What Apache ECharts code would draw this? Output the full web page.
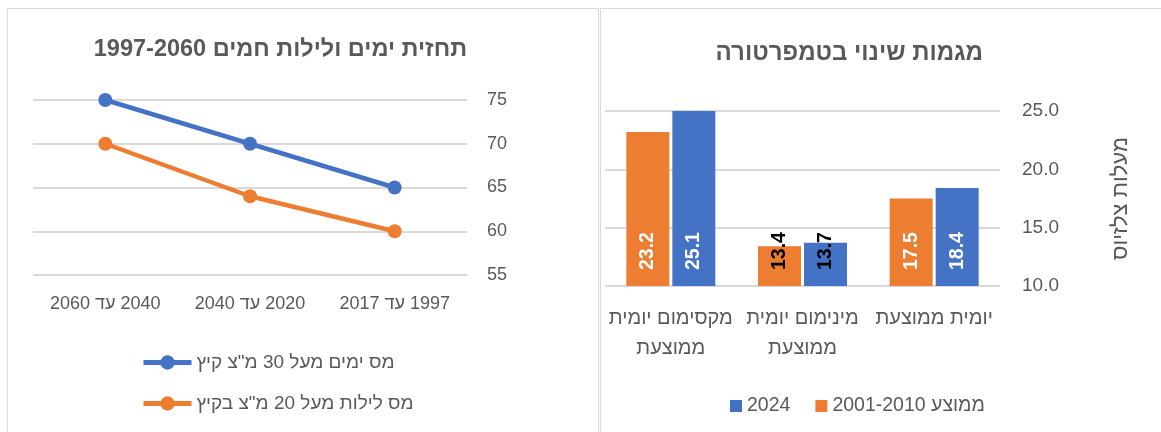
<!DOCTYPE html>
<html>
<head>
	<meta charset="utf-8">
	<title>ימים חמים ומגמות טמפרטורה</title>
	<script src="https://cdn.jsdelivr.net/npm/echarts@6/dist/echarts.min.js"></script>
	<style>
		html, body { margin: 0; padding: 0; background: #fff; }
		#chart { width: 1161px; height: 432px; }
		#chart canvas { direction: rtl; }
	</style>
</head>
<body>
	<div id="chart"></div>
	<script type="text/javascript">
	// left chart - hot days / nights
	var lineCategories = ['1997 עד 2017', '2020 עד 2040', '2040 עד 2060'];
	var hotDays = [65, 70, 75];
	var hotNights = [60, 64, 70];
	var lineNames = ['מס ימים מעל 30 מ"צ קיץ', 'מס לילות מעל 20 מ"צ בקיץ'];

	// right chart - temperature trends
	var barCategories = ['יומית ממוצעת', 'מינימום יומית\nממוצעת', 'מקסימום יומית\nממוצעת'];
	var avg2001 = [17.5, 13.4, 23.2];
	var year2024 = [18.4, 13.7, 25.1];
	var barNames = ['ממוצע 2001-2010', '2024'];

	var font = '"Liberation Sans", "DejaVu Sans", sans-serif';
	var grey = '#595959';
	var blue = '#4472C4';
	var orange = '#ED7D31';

	function barData(vals) {
		return vals.map(function (v, i) {
			// min bars are too short, label goes outside in black
			if (i === 1) return { value: v, label: { color: '#000' } };
			return v;
		});
	}

	var barLabel = {
		show: true,
		position: 'insideBottom',
		rotate: 90,
		align: 'left',
		verticalAlign: 'middle',
		distance: 16,
		color: '#fff',
		fontWeight: 'bold',
		fontSize: 19.5,
		fontFamily: font,
		formatter: function (p) { return p.value.toFixed(1); }
	};

	var chart = echarts.init(document.getElementById('chart'));
	chart.setOption({
		animation: false,
		textStyle: { fontFamily: font },
		graphic: [
			{ type: 'rect', shape: { x: 7.5, y: 8.5, width: 591, height: 440 }, style: { fill: null, stroke: '#d9d9d9', lineWidth: 1 } },
			{ type: 'rect', shape: { x: 600.5, y: 8.5, width: 580, height: 440 }, style: { fill: null, stroke: '#d9d9d9', lineWidth: 1 } }
		],
		title: [
			{
				text: 'תחזית ימים ולילות חמים 1997-2060',
				right: 689, top: 33,
				textStyle: { color: grey, fontSize: 23.5, fontWeight: 'bold', fontFamily: font }
			},
			{
				text: 'מגמות שינוי בטמפרטורה',
				right: 173, top: 36,
				textStyle: { color: grey, fontSize: 24, fontWeight: 'bold', fontFamily: font }
			}
		],
		legend: [
			{
				orient: 'vertical',
				left: 136, top: 348,
				itemWidth: 48, itemHeight: 18,
				itemGap: 22,
				data: lineNames,
				lineStyle: { width: 5 },
				textStyle: { color: grey, fontSize: 19, fontFamily: font }
			},
			{
				left: 725, top: 391,
				icon: 'rect',
				itemWidth: 12, itemHeight: 12,
				itemGap: 25,
				data: ['2024', 'ממוצע 2001-2010'],
				textStyle: { color: grey, fontSize: 19.5, fontFamily: font }
			}
		],
		grid: [
			{ left: 33, top: 100, width: 434, height: 175 },
			{ left: 605, top: 111, width: 395, height: 175 }
		],
		xAxis: [
			{
				type: 'category', gridIndex: 0, inverse: true,
				data: lineCategories,
				axisLine: { show: false }, axisTick: { show: false },
				axisLabel: { color: grey, fontSize: 18, margin: 20, interval: 0 }
			},
			{
				type: 'category', gridIndex: 1, inverse: true,
				data: barCategories,
				axisLine: { show: false }, axisTick: { show: false },
				axisLabel: {
					color: grey, fontSize: 20, margin: 17, lineHeight: 30,
					verticalAlign: 'top', interval: 0, hideOverlap: false
				}
			}
		],
		yAxis: [
			{
				type: 'value', gridIndex: 0, position: 'right',
				min: 55, max: 75, interval: 5,
				axisLine: { show: false }, axisTick: { show: false },
				axisLabel: { color: grey, fontSize: 18, margin: 20 },
				splitLine: { lineStyle: { color: '#d9d9d9', width: 2 } }
			},
			{
				type: 'value', gridIndex: 1, position: 'right',
				min: 10, max: 25, interval: 5,
				name: 'מעלות צלזיוס', nameLocation: 'middle', nameGap: 110,
				nameTextStyle: { color: grey, fontSize: 22 },
				axisLine: { show: false }, axisTick: { show: false },
				axisLabel: {
					color: grey, fontSize: 19, margin: 22,
					formatter: function (v) { return v.toFixed(1); }
				},
				splitLine: { lineStyle: { color: '#d9d9d9', width: 2 } }
			}
		],
		series: [
			{
				name: lineNames[0], type: 'line', xAxisIndex: 0, yAxisIndex: 0,
				data: hotDays,
				symbol: 'circle', symbolSize: 14,
				color: blue,
				lineStyle: { width: 4.5 }
			},
			{
				name: lineNames[1], type: 'line', xAxisIndex: 0, yAxisIndex: 0,
				data: hotNights,
				symbol: 'circle', symbolSize: 14,
				color: orange,
				lineStyle: { width: 4.5 }
			},
			{
				name: barNames[0], type: 'bar', xAxisIndex: 1, yAxisIndex: 1,
				data: barData(avg2001),
				color: orange,
				barWidth: 43, barGap: '7%',
				label: barLabel
			},
			{
				name: barNames[1], type: 'bar', xAxisIndex: 1, yAxisIndex: 1,
				data: barData(year2024),
				color: blue,
				barWidth: 43, barGap: '7%',
				label: barLabel
			}
		]
	});
	</script>
</body>
</html>
